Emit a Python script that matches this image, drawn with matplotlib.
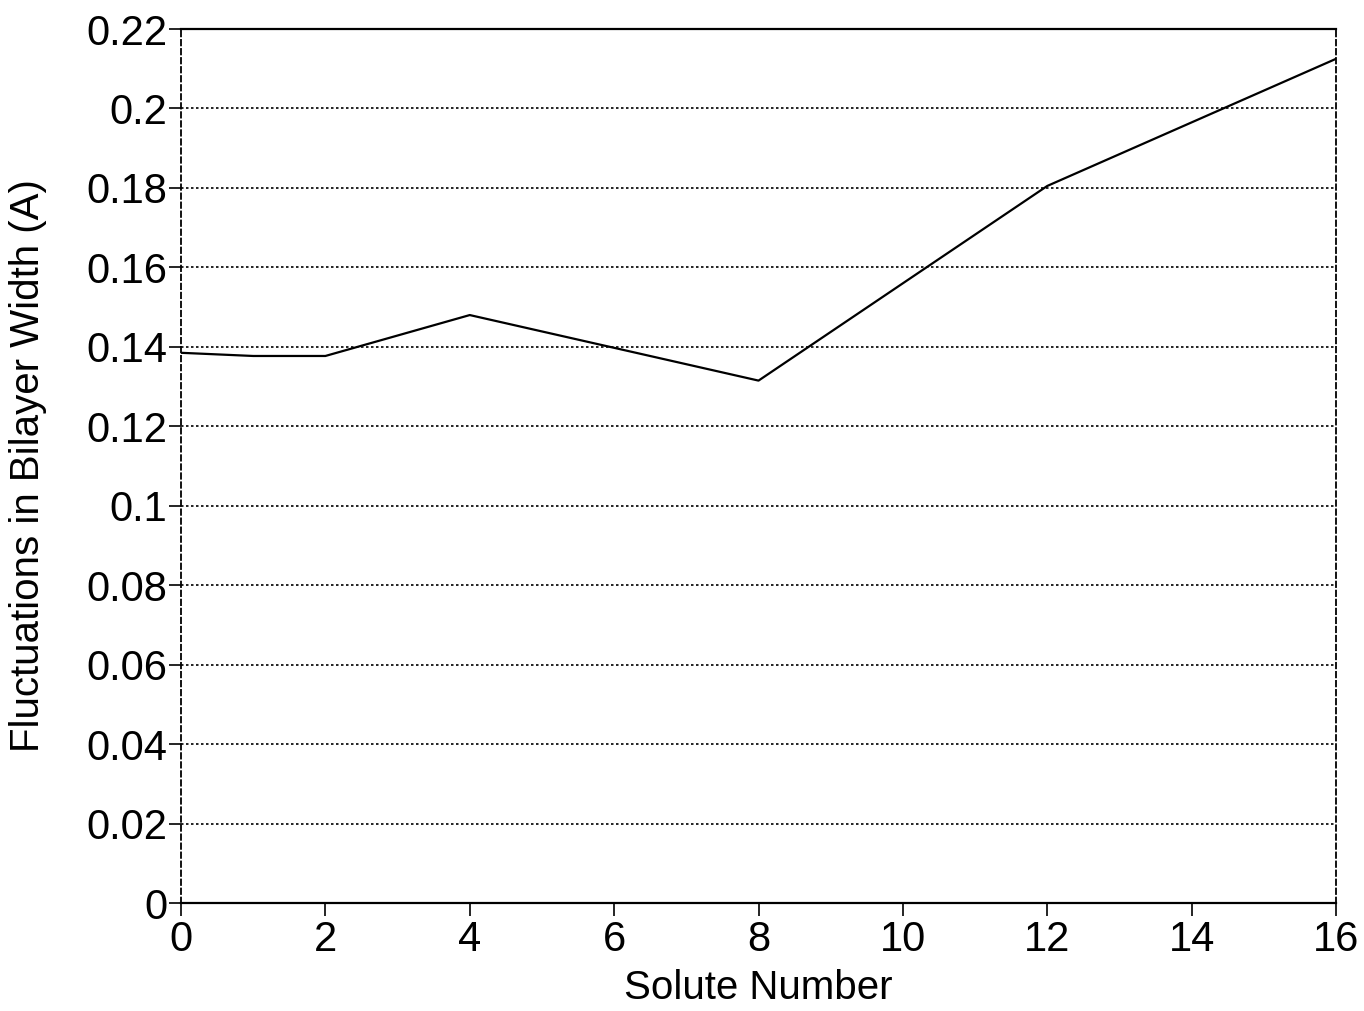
import matplotlib
matplotlib.use("Agg")
import matplotlib.pyplot as plt

solute_number = [0, 1, 2, 4, 8, 12, 16]
fluctuation = [0.1385, 0.1377, 0.1377, 0.148, 0.1315, 0.1805, 0.2125]
xticks = [0, 2, 4, 6, 8, 10, 12, 14, 16]
yticks = [0, 0.02, 0.04, 0.06, 0.08, 0.1, 0.12, 0.14, 0.16, 0.18, 0.2, 0.22]
ytick_labels = ["0", "0.02", "0.04", "0.06", "0.08", "0.1", "0.12", "0.14", "0.16", "0.18", "0.2", "0.22"]

plt.rcParams['font.family'] = ['Liberation Sans', 'DejaVu Sans']

fig = plt.figure(figsize=(13.64, 10.11), dpi=100)
ax = fig.add_axes([0.1327, 0.1068, 0.8468, 0.8645])

ax.plot(solute_number, fluctuation, color='black', lw=1.6)
ax.set_xlim(0, 16)
ax.set_ylim(0, 0.22)
ax.set_xticks(xticks)
ax.set_yticks(yticks)
ax.set_yticklabels(ytick_labels)
ax.grid(axis='y', linestyle=(0, (1.5, 1.5)), color='black', lw=1.2)
ax.tick_params(axis='both', labelsize=30, direction='out', length=9, width=1.2, color='black')
ax.tick_params(axis='x', pad=3)
ax.tick_params(axis='y', pad=1)

for s in ['left', 'right']:
    ax.spines[s].set_linestyle((0, (3, 2)))
    ax.spines[s].set_linewidth(1.3)
for s in ['top', 'bottom']:
    ax.spines[s].set_linewidth(1.6)

ax.set_xlabel('Solute Number', fontsize=29, labelpad=7)
ax.set_ylabel('Fluctuations in Bilayer Width (A)', fontsize=29, labelpad=28)

fig.savefig('out.png', dpi=100)
